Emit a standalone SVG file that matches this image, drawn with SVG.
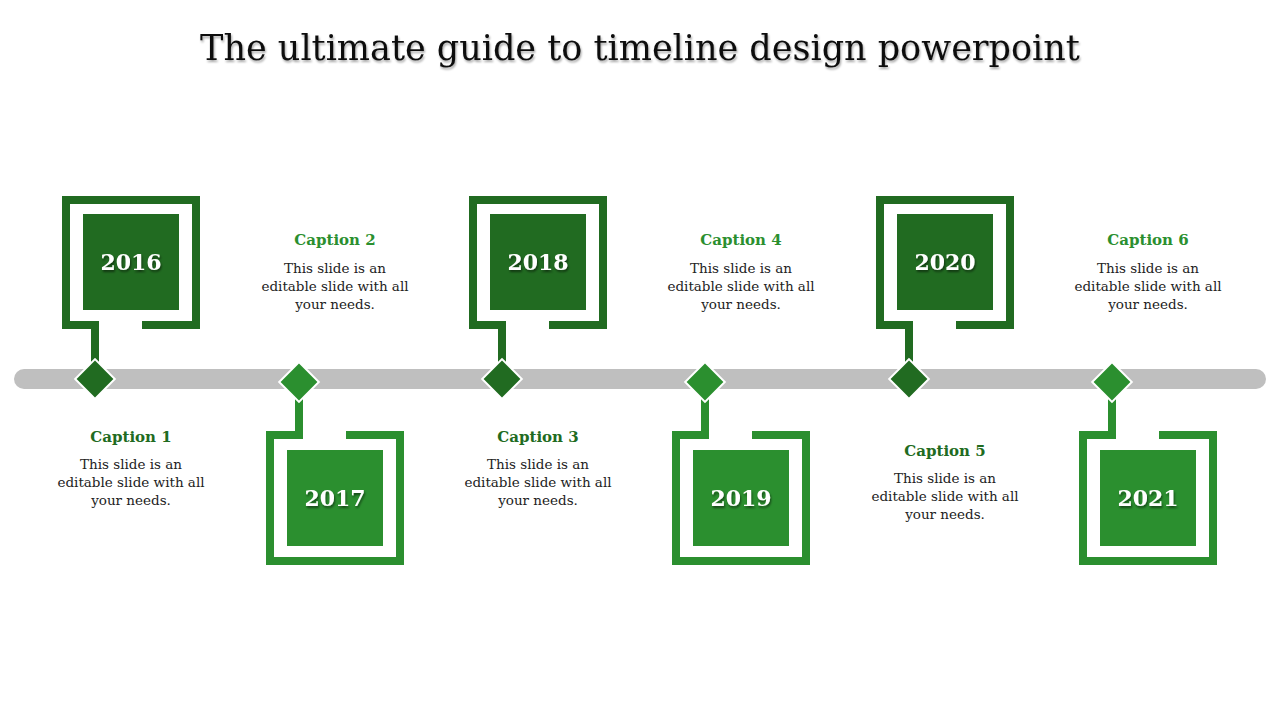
<svg xmlns="http://www.w3.org/2000/svg" width="1280" height="720" viewBox="0 0 1280 720">
<defs>
<style>
.title{font-family:Georgia,"DejaVu Serif","Liberation Serif",serif;font-size:35px;fill:#111;text-anchor:middle}
.yr{font-family:Georgia,"DejaVu Serif","Liberation Serif",serif;font-size:22px;font-weight:bold;fill:#fff;text-anchor:middle}
.cap{font-family:Georgia,"DejaVu Serif","Liberation Serif",serif;font-size:15px;font-weight:bold;text-anchor:middle}
.body{font-family:Georgia,"DejaVu Serif","Liberation Serif",serif;font-size:13.5px;fill:#222;text-anchor:middle}
.d{fill:#216b21}.l{fill:#2b8f2f}
.fd{fill:none;stroke:#216b21;stroke-width:8}.fl{fill:none;stroke:#2b8f2f;stroke-width:8}
.dia{stroke:#fff;stroke-width:2}
</style>
<filter id="sh"><feDropShadow dx="1" dy="2" stdDeviation="1" flood-color="#000" flood-opacity="0.5"/></filter>
<filter id="ts"><feDropShadow dx="1" dy="2" stdDeviation="1.2" flood-color="#000" flood-opacity="0.35"/></filter>
</defs>
<rect width="1280" height="720" fill="#fff"/>
<text class="title" x="640" y="60" filter="url(#ts)">The ultimate guide to timeline design powerpoint</text>
<g id="connectors">
<rect x="14" y="369" width="1252" height="20" rx="10" fill="#bfbfbf"/>
<path class="fd" d="M95 325V372M502 325V372M909 325V372"/>
<path class="fl" d="M299 388V435M705 388V435M1112 388V435"/>
</g>
<g id="n2016"><path class="fd" d="M142 325H196V200H66V325H99"/><rect class="d" x="83" y="214" width="96" height="96"/><text class="yr" x="131" y="270" filter="url(#sh)">2016</text><rect class="d dia" x="81" y="365" width="28" height="28" transform="rotate(45 95 379)"/></g>
<g id="n2017"><path class="fl" d="M346 435H400V561H270V435H303"/><rect class="l" x="287" y="450" width="96" height="96"/><text class="yr" x="335" y="506" filter="url(#sh)">2017</text><rect class="l dia" x="285" y="368" width="28" height="28" transform="rotate(45 299 382)"/></g>
<g id="n2018"><path class="fd" d="M549 325H603V200H473V325H506"/><rect class="d" x="490" y="214" width="96" height="96"/><text class="yr" x="538" y="270" filter="url(#sh)">2018</text><rect class="d dia" x="488" y="365" width="28" height="28" transform="rotate(45 502 379)"/></g>
<g id="n2019"><path class="fl" d="M752 435H806V561H676V435H709"/><rect class="l" x="693" y="450" width="96" height="96"/><text class="yr" x="741" y="506" filter="url(#sh)">2019</text><rect class="l dia" x="691" y="368" width="28" height="28" transform="rotate(45 705 382)"/></g>
<g id="n2020"><path class="fd" d="M956 325H1010V200H880V325H913"/><rect class="d" x="897" y="214" width="96" height="96"/><text class="yr" x="945" y="270" filter="url(#sh)">2020</text><rect class="d dia" x="895" y="365" width="28" height="28" transform="rotate(45 909 379)"/></g>
<g id="n2021"><path class="fl" d="M1159 435H1213V561H1083V435H1116"/><rect class="l" x="1100" y="450" width="96" height="96"/><text class="yr" x="1148" y="506" filter="url(#sh)">2021</text><rect class="l dia" x="1098" y="368" width="28" height="28" transform="rotate(45 1112 382)"/></g>
<g id="c1"><text class="cap" x="131" y="442" fill="#216b21">Caption 1</text><text class="body" x="131" y="469">This slide is an</text><text class="body" x="131" y="487">editable slide with all</text><text class="body" x="131" y="505">your needs.</text></g>
<g id="c2"><text class="cap" x="335" y="245" fill="#2b8f2f">Caption 2</text><text class="body" x="335" y="273">This slide is an</text><text class="body" x="335" y="291">editable slide with all</text><text class="body" x="335" y="309">your needs.</text></g>
<g id="c3"><text class="cap" x="538" y="442" fill="#216b21">Caption 3</text><text class="body" x="538" y="469">This slide is an</text><text class="body" x="538" y="487">editable slide with all</text><text class="body" x="538" y="505">your needs.</text></g>
<g id="c4"><text class="cap" x="741" y="245" fill="#2b8f2f">Caption 4</text><text class="body" x="741" y="273">This slide is an</text><text class="body" x="741" y="291">editable slide with all</text><text class="body" x="741" y="309">your needs.</text></g>
<g id="c5"><text class="cap" x="945" y="456" fill="#216b21">Caption 5</text><text class="body" x="945" y="483">This slide is an</text><text class="body" x="945" y="501">editable slide with all</text><text class="body" x="945" y="519">your needs.</text></g>
<g id="c6"><text class="cap" x="1148" y="245" fill="#2b8f2f">Caption 6</text><text class="body" x="1148" y="273">This slide is an</text><text class="body" x="1148" y="291">editable slide with all</text><text class="body" x="1148" y="309">your needs.</text></g>
</svg>
